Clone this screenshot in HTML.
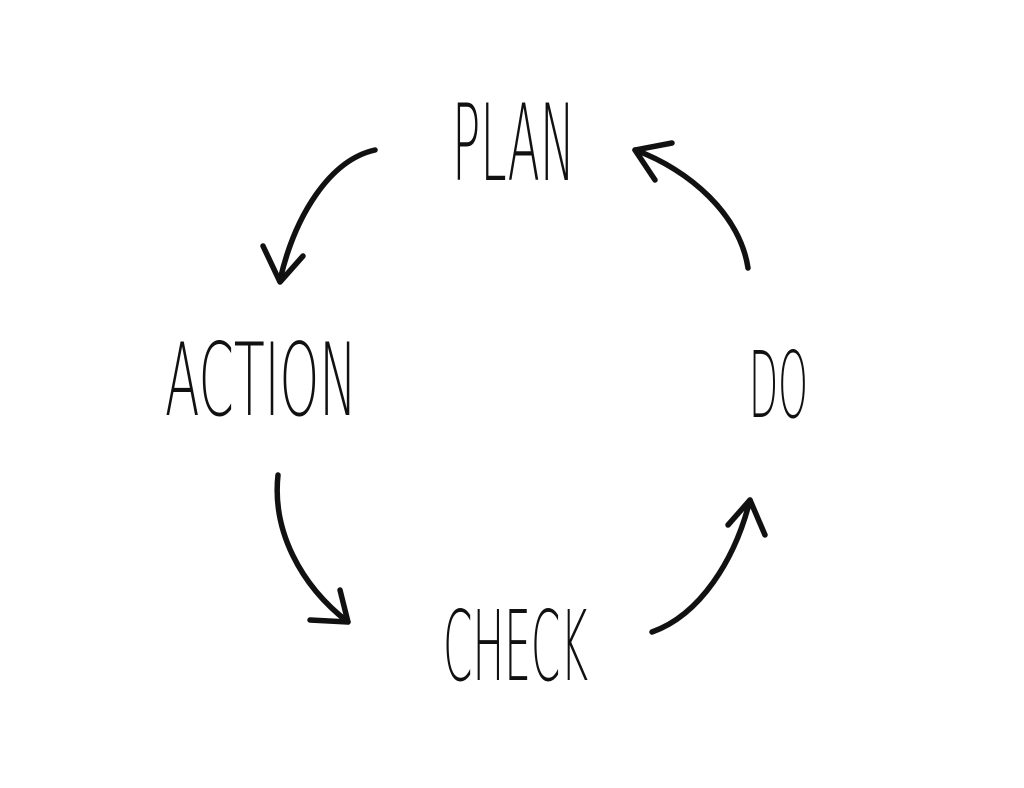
<!DOCTYPE html>
<html><head><style>html,body{margin:0;padding:0;background:#fff;}svg{display:block}</style></head>
<body>
<svg width="1024" height="788" viewBox="0 0 1024 788" xmlns="http://www.w3.org/2000/svg">
<rect width="1024" height="788" fill="#fff"/>
<g font-family="DejaVu Sans, Liberation Sans, sans-serif" font-weight="200" fill="#111">
<text x="452" y="180" font-size="106" textLength="123" lengthAdjust="spacingAndGlyphs">PLAN</text>
<text x="165" y="415" font-size="101" textLength="192" lengthAdjust="spacingAndGlyphs">ACTION</text>
<text x="749" y="417" font-size="92" textLength="59" lengthAdjust="spacingAndGlyphs">DO</text>
<text x="443" y="680" font-size="97" textLength="145" lengthAdjust="spacingAndGlyphs">CHECK</text>
</g>
<g fill="none" stroke="#111" stroke-width="5.5" stroke-linecap="round" stroke-linejoin="round">
<path d="M375 150 C330 160 295 215 280 280"/>
<path d="M263 246 L280 282 L303 256"/>
<path d="M748 268 C740 215 690 170 635 150"/>
<path d="M672 143 L635 150 L655 180"/>
<path d="M278 475 C272 530 300 585 348 622"/>
<path d="M340 590 L348 622 L310 620"/>
<path d="M652 632 C700 615 735 560 750 500"/>
<path d="M728 525 L750 500 L765 535"/>
</g>
</svg>
</body></html>
